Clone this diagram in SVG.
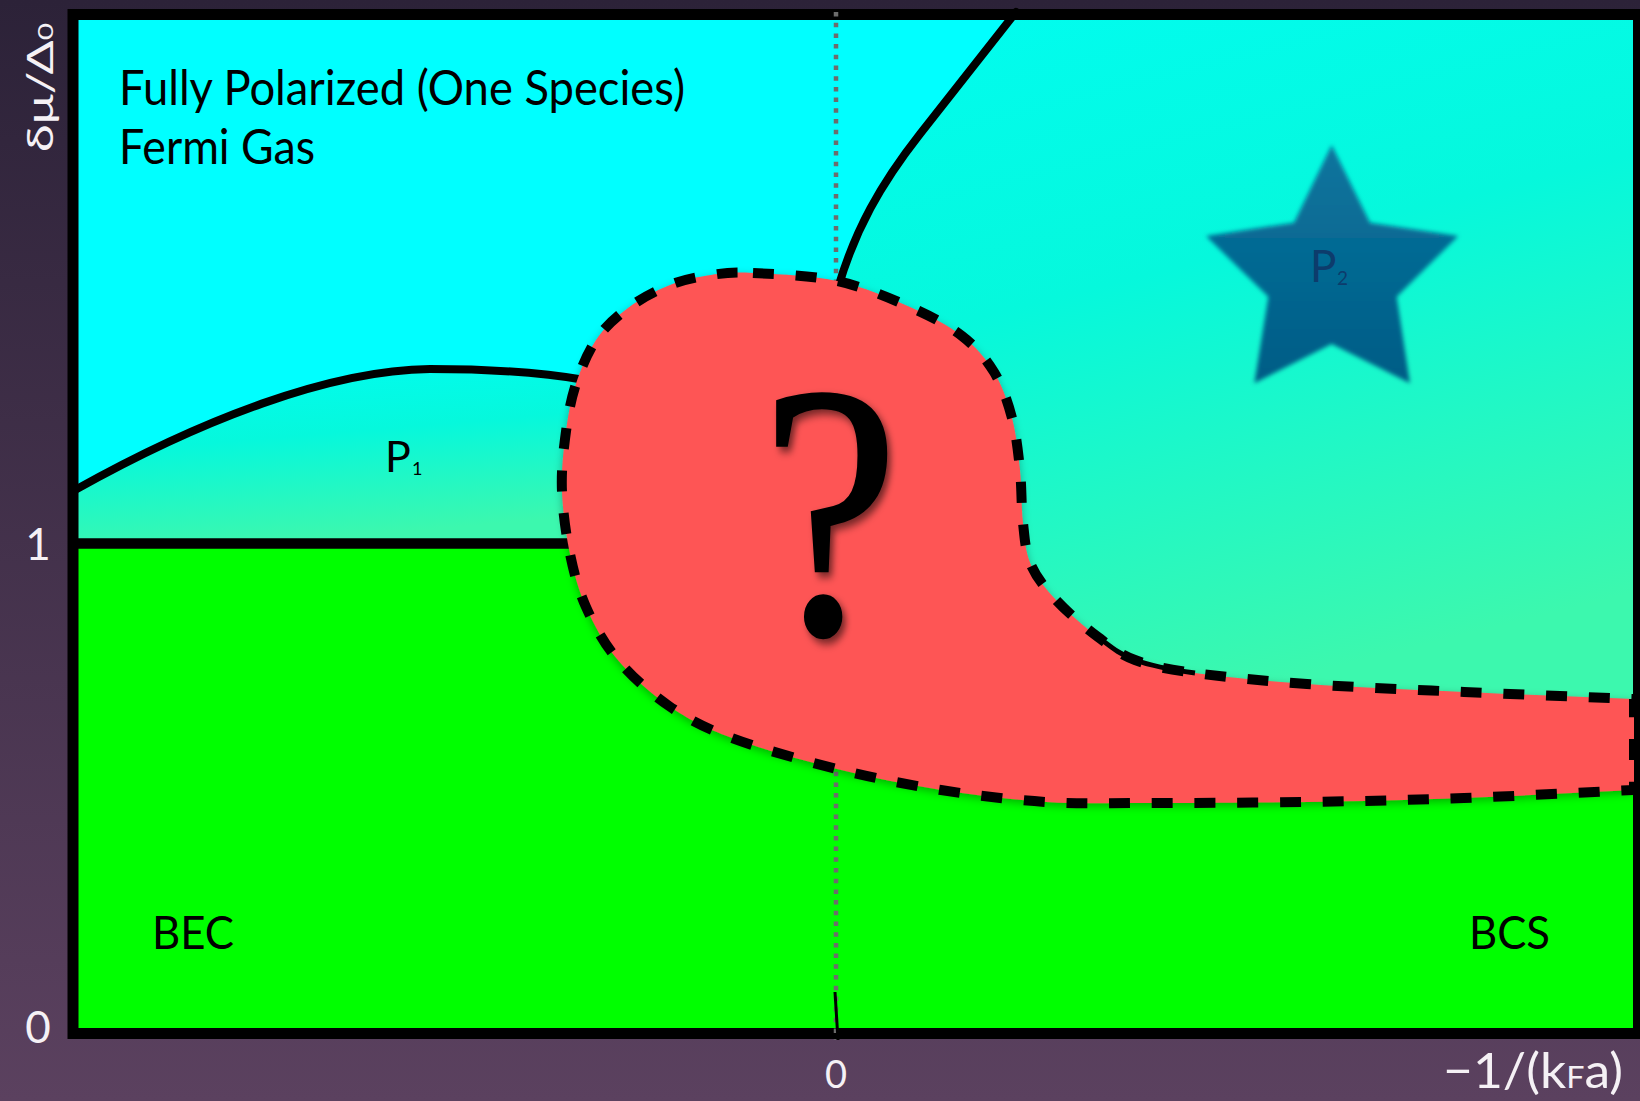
<svg xmlns="http://www.w3.org/2000/svg" width="1640" height="1101" viewBox="0 0 1640 1101">
<defs>
<linearGradient id="bg" x1="0" y1="0" x2="0" y2="1"><stop offset="0" stop-color="#2c2238"/><stop offset="1" stop-color="#5b415f"/></linearGradient>
<linearGradient id="pol" x1="0" y1="0" x2="0.3" y2="1"><stop offset="0" stop-color="#00fdf2"/><stop offset="0.45" stop-color="#06f8dc"/><stop offset="1" stop-color="#3cf8ae"/></linearGradient>
<linearGradient id="starg" x1="0" y1="0" x2="0" y2="1"><stop offset="0" stop-color="#0b759e"/><stop offset="1" stop-color="#005c86"/></linearGradient>
<filter id="soft" x="-10%" y="-10%" width="120%" height="120%"><feGaussianBlur stdDeviation="2"/></filter>
<filter id="blobsh" x="-5%" y="-5%" width="110%" height="115%"><feDropShadow dx="0" dy="3" stdDeviation="4" flood-color="#000" flood-opacity="0.3"/></filter>
<filter id="qsh" x="-20%" y="-20%" width="150%" height="150%"><feDropShadow dx="4" dy="5" stdDeviation="4" flood-color="#000" flood-opacity="0.55"/></filter>
</defs>
<style>
.lbl{font-family:Lato,"Open Sans",sans-serif;fill:#000}
.ax{font-family:Lato,"Open Sans",sans-serif;fill:#f5f1f5}
.solid{fill:none;stroke:#000;stroke-width:8;stroke-linecap:round;stroke-linejoin:round}
.dash{fill:none;stroke:#000;stroke-width:10;stroke-dasharray:21 21.7}
</style>
<rect width="1640" height="1101" fill="url(#bg)"/>
<g id="region-fully-polarized"><rect x="73" y="14.5" width="1565.5" height="1019" fill="#00ffff"/></g>
<g id="region-p2"><path d="M1016 12 L920 134 C880 185 855 230 838 288 L760 400 L1000 700 L1640 745 L1640 12 Z" fill="url(#pol)"/></g>
<g id="region-p1"><path d="M75 490 C200 420 330 370 430 369 C500 369 550 374 585 380 L700 400 L700 543 L73 543 Z" fill="url(#pol)"/></g>
<g id="region-superfluid"><path d="M73 543 L700 543 L1000 740 L1640 745 L1640 1034 L73 1034 Z" fill="#00ff00"/></g>
<g id="frame"><rect x="73" y="14.5" width="1565.5" height="1019" fill="none" stroke="#000" stroke-width="11"/></g>
<g id="connectors">
<line x1="836" y1="12" x2="836" y2="1040" stroke="#6c6c6c" stroke-width="4.5" stroke-dasharray="4.5 6.2"/>
<line x1="835" y1="992" x2="838" y2="1040" stroke="#000" stroke-width="3"/>
<path class="solid" d="M75 490 C200 420 330 370 430 369 C500 369 550 374 585 380"/>
<line x1="73" y1="543.5" x2="575" y2="543.5" stroke="#000" stroke-width="10.5"/>
<path class="solid" d="M1016 12 L920 134 C880 185 855 230 838 288"/>
</g>
<g id="region-unknown">
<path id="blob" filter="url(#blobsh)" fill="#fe5454" d="M753 273 C774 274 810.8 275.3 837 281 C863.2 286.7 889.2 297.8 910 307 C930.8 316.2 948 325.2 962 336 C976 346.8 985.7 358.3 994 372 C1002.3 385.7 1007.7 401.7 1012 418 C1016.3 434.3 1018.2 452.5 1020 470 C1021.8 487.5 1021.2 507.2 1023 523 C1024.8 538.8 1025.3 552 1031 565 C1036.7 578 1045.8 589 1057 601 C1068.2 613 1085 627.2 1098 637 C1111 646.8 1118.8 654 1135 660 C1151.2 666 1166.3 669 1195 673 C1223.7 677 1262.2 680.8 1307 684 C1351.8 687.2 1409.5 689.5 1464 692 C1518.5 694.5 1577.3 696.7 1634 699 L1634 790 C1577.3 792.7 1518.5 796 1464 798 C1409.5 800 1359.3 801.2 1307 802 C1254.7 802.8 1193.5 803 1150 803 C1106.5 803 1080.8 804.2 1046 802 C1011.2 799.8 975.8 795.5 941 790 C906.2 784.5 871.8 777.7 837 769 C802.2 760.3 760 748.5 732 738 C704 727.5 688.2 719.2 669 706 C649.8 692.8 630.8 675.5 617 659 C603.2 642.5 593.8 624.5 586 607 C578.2 589.5 574 573.2 570 554 C566 534.8 562.8 511.2 562 492 C561.2 472.8 562.8 456.5 565 439 C567.2 421.5 569.8 403.5 575 387 C580.2 370.5 587.2 353.2 596 340 C604.8 326.8 615.7 317.2 628 308 C640.3 298.8 656.2 290.5 670 285 C683.8 279.5 697.2 277 711 275 C724.8 273 732 272 753 273 Z"/>
<path class="dash" d="M753 273 C774 274 810.8 275.3 837 281 C863.2 286.7 889.2 297.8 910 307 C930.8 316.2 948 325.2 962 336 C976 346.8 985.7 358.3 994 372 C1002.3 385.7 1007.7 401.7 1012 418 C1016.3 434.3 1018.2 452.5 1020 470 C1021.8 487.5 1021.2 507.2 1023 523 C1024.8 538.8 1025.3 552 1031 565 C1036.7 578 1045.8 589 1057 601 C1068.2 613 1085 627.2 1098 637 C1111 646.8 1118.8 654 1135 660 C1151.2 666 1166.3 669 1195 673 C1223.7 677 1262.2 680.8 1307 684 C1351.8 687.2 1409.5 689.5 1464 692 C1518.5 694.5 1577.3 696.7 1634 699 L1634 790 C1577.3 792.7 1518.5 796 1464 798 C1409.5 800 1359.3 801.2 1307 802 C1254.7 802.8 1193.5 803 1150 803 C1106.5 803 1080.8 804.2 1046 802 C1011.2 799.8 975.8 795.5 941 790 C906.2 784.5 871.8 777.7 837 769 C802.2 760.3 760 748.5 732 738 C704 727.5 688.2 719.2 669 706 C649.8 692.8 630.8 675.5 617 659 C603.2 642.5 593.8 624.5 586 607 C578.2 589.5 574 573.2 570 554 C566 534.8 562.8 511.2 562 492 C561.2 472.8 562.8 456.5 565 439 C567.2 421.5 569.8 403.5 575 387 C580.2 370.5 587.2 353.2 596 340 C604.8 326.8 615.7 317.2 628 308 C640.3 298.8 656.2 290.5 670 285 C683.8 279.5 697.2 277 711 275 C724.8 273 732 272 753 273 Z"/>
<path d="M1098 637 C1111 646.8 1118.8 654 1135 660 C1151.2 666 1166.3 669 1195 673" fill="none" stroke="#000" stroke-width="5"/>
<text transform="translate(830,633) scale(0.86,1)" x="0" y="0" text-anchor="middle" font-family="'Liberation Serif',serif" font-size="362" fill="#000" stroke="#000" stroke-width="2" filter="url(#qsh)">?</text>
</g>
<g id="star-p2">
<polygon points="1331.7,145 1370,222.7 1458.3,236 1396.7,296.7 1410,383.3 1331.7,344 1254.3,383.3 1268.3,296.7 1206,236 1294,222.7" fill="url(#starg)" filter="url(#soft)"/>
<text class="lbl" x="1310" y="282" font-size="44" style="fill:#0d3c6c">P<tspan x="1337" y="285" font-size="19">2</tspan></text>
</g>
<g id="labels">
<text class="lbl" x="119" y="105" font-size="48" textLength="566" lengthAdjust="spacingAndGlyphs">Fully Polarized (One Species)</text>
<text class="lbl" x="119" y="164" font-size="48" textLength="196" lengthAdjust="spacingAndGlyphs">Fermi Gas</text>
<text class="lbl" x="385" y="472" font-size="43">P<tspan x="412" y="475" font-size="18">1</tspan></text>
<text class="lbl" x="152" y="949" font-size="46" textLength="82" lengthAdjust="spacingAndGlyphs">BEC</text>
<text class="lbl" x="1469" y="949" font-size="46" textLength="81" lengthAdjust="spacingAndGlyphs">BCS</text>
</g>
<g id="axes">
<text class="ax" transform="translate(53,152) rotate(-90)" font-size="37" textLength="129" lengthAdjust="spacingAndGlyphs">δμ/Δ<tspan font-size="22">0</tspan></text>
<text class="ax" x="38" y="560" font-size="44" text-anchor="middle">1</text>
<text class="ax" x="38" y="1043" font-size="44" text-anchor="middle">0</text>
<text class="ax" x="836" y="1088" font-size="38" text-anchor="middle">0</text>
<text class="ax" x="1443" y="1088" font-size="48" textLength="180" lengthAdjust="spacingAndGlyphs">−1/(k<tspan font-size="30">F</tspan>a)</text>
</g>
</svg>
